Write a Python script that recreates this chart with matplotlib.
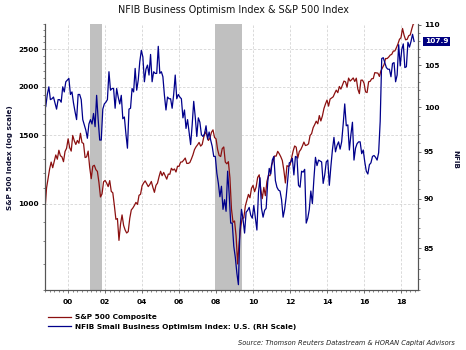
import numpy as np
import matplotlib.pyplot as plt
from matplotlib.ticker import FixedLocator, NullFormatter, FuncFormatter

plt.rcParams['font.family'] = ['DejaVu Sans']
plt.rcParams['font.weight'] = 'bold'

# --- datos ---
# S&P 500: cierre mensual, primer punto = fin de sep 1998, ultimo = fin de sep 2018
sp500_inicio = 1998.75
sp500 = [965,
         1098, 1163, 1229,
         1280, 1238, 1286, 1335, 1302, 1373, 1329, 1320, 1283, 1363, 1389, 1469,
         1394, 1366, 1499, 1452, 1421, 1455, 1431, 1518, 1437, 1429, 1315, 1320,
         1366, 1240, 1160, 1249, 1256, 1224, 1211, 1134, 1041, 1060, 1139, 1148,
         1130, 1107, 1147, 1076, 1067, 990, 912, 916, 805, 886, 936, 880,
         856, 841, 848, 917, 964, 975, 990, 1008, 996, 1051, 1058, 1112,
         1131, 1145, 1126, 1107, 1121, 1141, 1102, 1070, 1115, 1130, 1174, 1212,
         1181, 1204, 1181, 1157, 1192, 1191, 1234, 1220, 1229, 1207, 1249, 1248,
         1280, 1281, 1295, 1311, 1270, 1270, 1277, 1304, 1336, 1378, 1401, 1418,
         1438, 1407, 1421, 1482, 1531, 1503, 1455, 1474, 1527, 1549, 1481, 1468,
         1379, 1331, 1323, 1386, 1400, 1280, 1267, 1283, 1165, 969, 896, 903,
         826, 700, 798, 873, 919, 919, 987, 1021, 1057, 1036, 1096, 1115,
         1074, 1104, 1169, 1187, 1089, 1031, 1102, 1049, 1141, 1183, 1181, 1258,
         1286, 1327, 1326, 1364, 1345, 1321, 1292, 1219, 1131, 1253, 1247, 1258,
         1312, 1366, 1408, 1398, 1310, 1362, 1379, 1407, 1441, 1412, 1416, 1426,
         1498, 1515, 1569, 1598, 1631, 1606, 1686, 1633, 1682, 1757, 1806, 1848,
         1783, 1859, 1872, 1884, 1924, 1960, 1931, 2003, 1972, 2018, 2068, 2059,
         1995, 2105, 2068, 2086, 2107, 2063, 2104, 1972, 1920, 2079, 2080, 2044,
         1940, 1932, 2060, 2065, 2097, 2099, 2174, 2171, 2168, 2126, 2199, 2239,
         2279, 2364, 2363, 2384, 2412, 2423, 2470, 2472, 2519, 2575, 2648, 2674,
         2824, 2714, 2641, 2648, 2705, 2718, 2816, 2902, 2914]

# NFIB: indice mensual (mitad de mes), oct 1998 - sep 2018
nfib_inicio = 1998.75 + 1 / 24
nfib = [100.1, 101.5, 102.4,
        100.9, 101.0, 101.2, 100.5, 99.8, 100.9, 100.9, 100.6, 102.4, 101.8, 103.0, 103.2,
        103.4, 101.5, 101.8, 100.5, 99.5, 98.6, 101.5, 101.5, 100.9, 98.6, 98.0, 97.4,
        96.5, 98.1, 98.6, 98.1, 99.3, 97.8, 101.4, 98.6, 96.3, 96.3, 99.8, 100.4,
        100.6, 100.9, 104.2, 102.0, 102.2, 102.2, 99.9, 102.2, 101.2, 100.4, 101.4, 98.7,
        98.9, 97.0, 95.4, 99.8, 99.9, 102.2, 101.8, 104.6, 102.0, 103.2, 105.4, 106.8,
        106.0, 103.0, 104.5, 105.0, 103.8, 106.3, 103.0, 104.2, 104.0, 104.0, 107.3, 104.0,
        104.2, 103.6, 101.4, 99.7, 101.2, 101.0, 101.0, 99.9, 101.5, 103.8, 101.0, 101.5,
        101.2, 101.0, 98.8, 99.7, 97.6, 98.6, 97.2, 95.8, 98.0, 100.7, 98.9, 96.7,
        98.8, 98.3, 96.9, 96.7, 97.0, 97.9, 96.4, 97.2, 96.3, 95.6, 94.5, 94.5,
        92.7, 91.6, 90.2, 91.3, 88.9, 89.9, 88.7, 92.9, 90.5, 87.5, 87.5, 85.2,
        84.1, 82.6, 81.5, 86.8, 88.9, 87.9, 86.5, 88.6, 88.8, 89.1, 88.3, 88.0,
        89.3, 88.0, 86.8, 90.6, 92.2, 89.0, 88.1, 88.8, 89.0, 91.7, 93.2, 92.6,
        94.1, 94.5, 91.9, 91.2, 90.9, 90.8, 89.9, 88.1, 88.9, 90.2, 92.0, 93.8,
        93.9, 94.3, 92.5, 94.5, 94.4, 91.4, 91.2, 92.9, 92.8, 93.1, 87.5, 88.0,
        88.9, 90.8, 89.5, 92.1, 94.4, 93.5, 94.1, 94.0, 93.9, 91.6, 92.5, 93.9,
        94.1, 91.4, 93.4, 95.2, 96.6, 95.0, 95.7, 96.1, 95.3, 96.1, 98.1, 100.4,
        97.9, 98.0, 95.2, 96.9, 98.3, 94.1, 95.4, 95.9, 96.1, 96.1, 94.8, 95.2,
        93.9, 92.9, 92.6, 93.6, 93.8, 94.5, 94.6, 94.4, 94.1, 94.9, 98.4, 105.8,
        105.9, 105.3, 104.7, 104.5, 104.5, 103.6, 105.2, 105.3, 103.0, 103.8, 107.5, 104.9,
        106.9, 107.6, 104.7, 104.8, 107.8, 107.2, 107.9, 108.8, 107.9]

# recesiones NBER (mar-nov 2001, dic 2007-jun 2009)
recesion_inicio = [2001.17, 2007.95]
recesion_fin = [2001.83, 2009.40]

anios_ticks = [2000, 2002, 2004, 2006, 2008, 2010, 2012, 2014, 2016, 2018]
etiquetas_x = ['00', '02', '04', '06', '08', '10', '12', '14', '16', '18']
ticks_sp = [1000, 1500, 2000, 2500]
ticks_nfib = [85, 90, 95, 100, 105, 110]

ROJO = '#8b1010'
AZUL = '#00008b'
GRIS = '#555555'

sp_x = sp500_inicio + np.arange(len(sp500)) / 12
nfib_x = nfib_inicio + np.arange(len(nfib)) / 12

fig = plt.figure(figsize=(4.66, 3.5), dpi=100)
ax = fig.add_axes([45 / 466, 1 - 290 / 350, 373 / 466, 266 / 350])
ax2 = ax.twinx()

for a, b in zip(recesion_inicio, recesion_fin):
    ax.axvspan(a, b, color='#c0c0c0', lw=0, zorder=2)

l1, = ax.plot(sp_x, sp500, color=ROJO, lw=0.9, zorder=3)
l2, = ax2.plot(nfib_x, nfib, color=AZUL, lw=0.9)

# eje izquierdo (log)
ax.set_yscale('log')
ax.set_ylim(600, 2900)
ax.yaxis.set_major_locator(FixedLocator(ticks_sp))
ax.yaxis.set_minor_locator(FixedLocator(np.arange(600, 2901, 100)))
ax.yaxis.set_major_formatter(FuncFormatter(lambda v, p: f'{v:.0f}'))
ax.yaxis.set_minor_formatter(NullFormatter())

# eje derecho (log)
ax2.set_yscale('log')
ax2.set_ylim(81.0, 110.1)
ax2.yaxis.set_major_locator(FixedLocator(ticks_nfib))
ax2.yaxis.set_minor_locator(FixedLocator(np.arange(81, 111, 1)))
ax2.yaxis.set_major_formatter(FuncFormatter(lambda v, p: f'{v:.0f}'))
ax2.yaxis.set_minor_formatter(NullFormatter())

# eje x
ax.set_xlim(1998.75, 2018.92)
ax.set_xticks(anios_ticks, labels=etiquetas_x)
ax.xaxis.set_minor_locator(FixedLocator(np.arange(1998.75, 2018.9, 0.25)))

ax.set_axisbelow(True)
ax.grid(True, which='major', color='#d4d4d4', ls=(0, (3, 2)), lw=0.6)

for a in (ax, ax2):
    a.spines['top'].set_visible(False)
    for s in ('left', 'right', 'bottom'):
        a.spines[s].set_color(GRIS)
        a.spines[s].set_linewidth(0.8)
    a.tick_params(which='major', length=2.2, width=0.6, color=GRIS,
                  labelsize=5.3, pad=2)
    a.tick_params(which='minor', length=1.5, width=0.5, color=GRIS)
ax.tick_params(axis='x', pad=4)

# caja con el ultimo valor
ax2.annotate(f'{nfib[-1]:.1f}', xy=(1, nfib[-1]), xycoords=('axes fraction', 'data'),
             xytext=(7, 0), textcoords='offset pixels', ha='left', va='center',
             color='white', fontsize=5.3, fontweight='bold',
             bbox=dict(boxstyle='square,pad=0.25', fc='#000080', ec='none'))

fig.text(233 / 466, 1 - 10 / 350, 'NFIB Business Optimism Index & S&P 500 Index',
         ha='center', va='center', fontsize=6.9, fontweight='normal', color='#111111')
fig.text(10 / 466, 1 - 158 / 350, 'S&P 500 Index (log scale)', rotation=90,
         ha='center', va='center', fontsize=5.2, color='#111133')
fig.text(455 / 466, 1 - 160 / 350, 'NFIB', rotation=270,
         ha='center', va='center', fontsize=5.2, color='#111133')

fig.legend([l1, l2], ['S&P 500 Composite', 'NFIB Small Business Optimism Index: U.S. (RH Scale)'],
           loc='upper left', bbox_to_anchor=(48 / 466, 1 - 314 / 350),
           bbox_transform=fig.transFigure, frameon=False, fontsize=5.35,
           handlelength=3.1, handletextpad=0.6, labelspacing=0.44,
           borderpad=0, borderaxespad=0)

fig.text(455 / 466, 1 - 343 / 350, 'Source: Thomson Reuters Datastream & HORAN Capital Advisors',
         ha='right', va='center', fontsize=4.75, fontweight='normal', style='italic',
         color='#222222')

fig.savefig('out.png', dpi=100)
